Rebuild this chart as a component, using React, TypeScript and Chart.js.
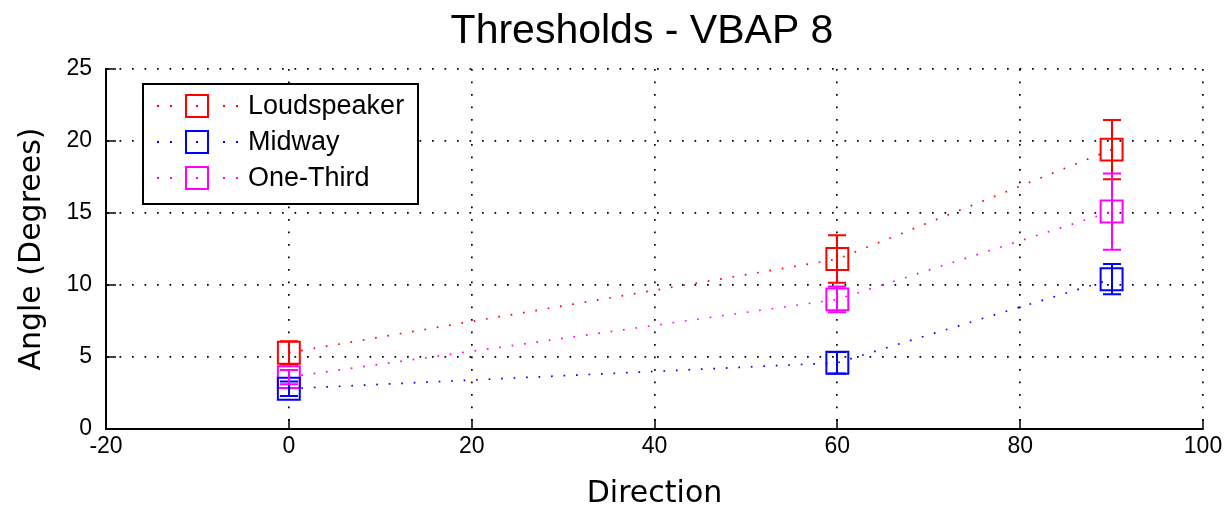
import React, { useEffect, useRef } from 'react';
import { Chart, registerables } from 'chart.js';

Chart.register(...registerables);

// Stimulus directions (x axis)
const directions = [0, 60, 90];

// Mean thresholds and symmetric error half-widths for each condition
const loudspeakerMean = [5.3, 11.8, 19.4];
const loudspeakerErr = [0.8, 1.65, 2.05];
const midwayMean = [2.8, 4.6, 10.4];
const midwayErr = [0.5, 0.75, 1.05];
const oneThirdMean = [3.6, 9.0, 15.1];
const oneThirdErr = [0.5, 0.9, 2.65];

const seriesNames = ['Loudspeaker', 'Midway', 'One-Third'];
const seriesColors = ['#ff0000', '#0000ff', '#ff00ff'];

const xTicks = [-20, 0, 20, 40, 60, 80, 100];
const yTicks = [0, 5, 10, 15, 20, 25];

const chartTitle = 'Thresholds - VBAP 8';

const series = [
  { name: seriesNames[0], color: seriesColors[0], mean: loudspeakerMean, err: loudspeakerErr },
  { name: seriesNames[1], color: seriesColors[1], mean: midwayMean, err: midwayErr },
  { name: seriesNames[2], color: seriesColors[2], mean: oneThirdMean, err: oneThirdErr },
];

const DOT_DASH = [1.7, 10.8];

// Vertical error bars with caps
const errorBarPlugin = {
  id: 'errorBars',
  afterDatasetsDraw(chart: any) {
    const { ctx, scales } = chart;
    const xs = scales.x;
    const ys = scales.y;
    ctx.save();
    ctx.lineWidth = 2;
    series.forEach((s) => {
      ctx.strokeStyle = s.color;
      directions.forEach((d, i) => {
        const px = Math.round(xs.getPixelForValue(d));
        const top = ys.getPixelForValue(s.mean[i] + s.err[i]);
        const bot = ys.getPixelForValue(s.mean[i] - s.err[i]);
        ctx.beginPath();
        ctx.moveTo(px, top);
        ctx.lineTo(px, bot);
        ctx.moveTo(px - 9, top);
        ctx.lineTo(px + 9, top);
        ctx.moveTo(px - 9, bot);
        ctx.lineTo(px + 9, bot);
        ctx.stroke();
      });
    });
    ctx.restore();
  },
};

// Title, tick marks pointing into the plot area, and the boxed legend
const decorPlugin = {
  id: 'decor',
  afterDraw(chart: any) {
    const { ctx, chartArea: a, scales } = chart;
    const xs = scales.x;
    const ys = scales.y;
    ctx.save();

    ctx.fillStyle = '#000';
    ctx.font = '41px "Liberation Sans", Arial, sans-serif';
    ctx.textAlign = 'center';
    ctx.textBaseline = 'alphabetic';
    ctx.fillText(chartTitle, 642, 43);

    ctx.strokeStyle = '#000';
    ctx.lineWidth = 1.5;
    ctx.beginPath();
    xTicks.forEach((v) => {
      const px = Math.round(xs.getPixelForValue(v));
      ctx.moveTo(px, a.bottom);
      ctx.lineTo(px, a.bottom - 10);
    });
    yTicks.forEach((v) => {
      const py = Math.round(ys.getPixelForValue(v));
      ctx.moveTo(a.left, py);
      ctx.lineTo(a.left + 10, py);
    });
    ctx.stroke();

    // legend box
    const lx = a.left + 37;
    const ly = a.top + 15;
    const lw = 275;
    const lh = 120;
    ctx.fillStyle = '#fff';
    ctx.fillRect(lx, ly, lw, lh);
    ctx.lineWidth = 2;
    ctx.strokeStyle = '#000';
    ctx.strokeRect(lx, ly, lw, lh);

    ctx.font = '27px "Liberation Sans", Arial, sans-serif';
    ctx.textBaseline = 'middle';
    ctx.textAlign = 'left';
    series.forEach((s, i) => {
      const cy = ly + 22 + i * 36;
      const cx = lx + 54;
      ctx.fillStyle = s.color;
      [-39, -26, 0, 27, 40].forEach((dx) => {
        ctx.fillRect(cx + dx - 1, cy - 1, 2, 2);
      });
      ctx.strokeStyle = s.color;
      ctx.lineWidth = 2;
      ctx.strokeRect(cx - 11, cy - 11, 22, 22);
      ctx.fillStyle = '#000';
      ctx.fillText(s.name, lx + 105, cy + 1);
    });
    ctx.restore();
  },
};

export default function App() {
  const canvasRef = useRef<HTMLCanvasElement | null>(null);

  useEffect(() => {
    document.body.style.margin = '0';
    const canvas = canvasRef.current;
    if (!canvas) return;

    const datasets = series.map((s) => ({
      label: s.name,
      data: directions.map((d, i) => ({ x: d, y: s.mean[i] })),
      borderColor: s.color,
      backgroundColor: 'transparent',
      borderWidth: 1.7,
      borderDash: DOT_DASH,
      pointStyle: 'rect',
      pointRadius: 15.5,
      pointBorderWidth: 2,
      pointBorderColor: s.color,
      pointBackgroundColor: 'transparent',
      tension: 0,
      fill: false,
    }));

    const chart = new Chart(canvas, {
      type: 'line',
      data: { datasets } as any,
      options: {
        responsive: false,
        animation: false,
        events: [],
        layout: { padding: { left: 0, right: 25, top: 69, bottom: 0 } },
        plugins: {
          legend: { display: false },
          tooltip: { enabled: false },
          title: { display: false },
        },
        scales: {
          x: {
            type: 'linear',
            min: -20,
            max: 100,
            afterBuildTicks: (scale: any) => {
              scale.ticks = xTicks.map((v) => ({ value: v }));
            },
            afterFit: (scale: any) => {
              scale.height = 83;
            },
            ticks: {
              color: '#000',
              padding: 4,
              maxRotation: 0,
              font: { family: '"Liberation Sans", Arial, sans-serif', size: 23 },
            },
            grid: { color: '#000', lineWidth: 1.7, drawTicks: false },
            border: { display: true, color: '#000', width: 2, dash: DOT_DASH },
            title: {
              display: true,
              text: 'Direction',
              color: '#000',
              font: { family: '"DejaVu Sans", sans-serif', size: 30 },
              padding: { top: 0, bottom: 0 },
            },
          },
          y: {
            type: 'linear',
            min: 0,
            max: 25,
            afterBuildTicks: (scale: any) => {
              scale.ticks = yTicks.map((v) => ({ value: v }));
            },
            afterFit: (scale: any) => {
              scale.width = 106;
            },
            ticks: {
              color: '#000',
              padding: 14,
              font: { family: '"Liberation Sans", Arial, sans-serif', size: 23 },
            },
            grid: { color: '#000', lineWidth: 1.7, drawTicks: false },
            border: { display: true, color: '#000', width: 2, dash: DOT_DASH },
            title: {
              display: true,
              text: 'Angle (Degrees)',
              color: '#000',
              font: { family: '"DejaVu Sans", sans-serif', size: 30 },
              padding: { top: 14, bottom: 0 },
            },
          },
        },
      } as any,
      plugins: [errorBarPlugin, decorPlugin],
    });

    return () => chart.destroy();
  }, []);

  return (
    <div style={{ position: 'absolute', left: 0, top: 0, width: 1228, height: 512 }}>
      <canvas ref={canvasRef} width={1228} height={512} />
    </div>
  );
}
